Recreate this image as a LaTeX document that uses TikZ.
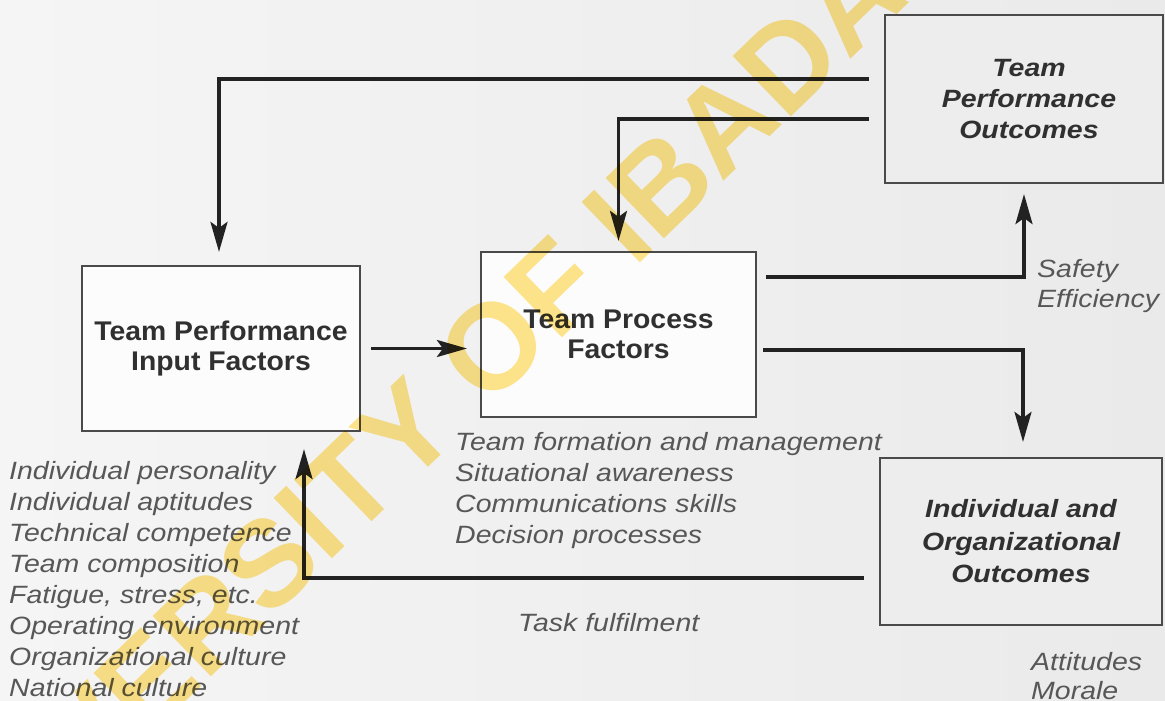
\documentclass[tikz,border=0pt]{standalone}
\usepackage{fontspec}
\setmainfont{Liberation Sans}
\newfontfamily\listfont[FakeStretch=1.14]{Liberation Sans}
\newfontfamily\boxfont[FakeStretch=1.05]{Liberation Sans}
\usetikzlibrary{arrows.meta}

\definecolor{paperL}{HTML}{F5F5F5}
\definecolor{paperR}{HTML}{EAEAEA}
\definecolor{ink}{HTML}{222222}
\definecolor{boxline}{HTML}{4A4A4A}
\definecolor{labelgray}{HTML}{303030}
\definecolor{listgray}{HTML}{575757}
\definecolor{stamp}{RGB}{255,229,138}

\begin{document}
\begin{tikzpicture}[x=1pt,y=-1pt,
  box/.style={draw=boxline, line width=2.2pt, inner sep=0pt, align=center, text=labelgray},
  inbox/.style={box, fill=white!70!paperL, font=\boxfont\bfseries\fontsize{27}{30}\selectfont},
  outbox/.style={box, fill=black!7, font=\listfont\bfseries\itshape\fontsize{25}{31}\selectfont},
  conn/.style={draw=ink, line width=3.2pt, -{Stealth[length=30pt,width=17pt,inset=6pt]}},
  itemtext/.style={inner sep=0pt, align=left, text=listgray, font=\listfont\itshape\fontsize{25}{31}\selectfont},
]
% paper
\useasboundingbox (0,0) rectangle (1165,701);
\shade[left color=paperL, right color=paperR] (0,0) rectangle (1165,701);

% boxes
\node[inbox, minimum width=278pt, minimum height=165pt] (A) at (221,348.5)
  {Team Performance\\Input Factors};
\node[inbox, minimum width=275pt, minimum height=165pt] (B) at (618.5,334.5)
  {Team Process\\Factors};
\node[outbox, minimum width=278pt, minimum height=168pt] (C) at (1024,99)
  {\hspace*{10pt}Team\\\hspace*{10pt}Performance\\\hspace*{10pt}Outcomes};
\node[outbox, minimum width=282pt, minimum height=167pt, font=\listfont\bfseries\itshape\fontsize{25}{32.5}\selectfont] (D) at (1021,541.5)
  {Individual and\\Organizational\\Outcomes};

% connectors
\draw[conn, shorten >=13pt] ([xshift=-15pt,yshift=20pt]C.west) -| ([xshift=-2pt]A.north);
\draw[conn, shorten >=10pt] ([xshift=-15pt,yshift=-20pt]C.west) -| (B.north);
\draw[conn, shorten <=10pt, shorten >=13pt] (A.east) -- (A.east -| B.west);
\draw[conn, shorten >=10pt] ([xshift=9pt,yshift=57.5pt]B.east) -| (C.south);
\draw[conn, shorten >=15pt] ([xshift=6pt,yshift=-15.5pt]B.east) -| ([xshift=2pt]D.north);
\draw[conn, shorten >=17pt] ([xshift=-15pt,yshift=-36.5pt]D.west) -| ([xshift=83pt]A.south);

% factor lists and outcome labels
\node[itemtext, anchor=north west] (inputs) at (9,461)
  {Individual personality\\Individual aptitudes\\Technical competence\\Team composition\\Fatigue, stress, etc.\\Operating environment\\Organizational culture\\National culture};
\node[itemtext, anchor=north west] (process) at (455,432)
  {Team formation and management\\Situational awareness\\Communications skills\\Decision processes};
\node[itemtext, anchor=north west, font=\listfont\itshape\fontsize{25}{30}\selectfont] (perf) at (1037,259)
  {Safety\\Efficiency};
\node[itemtext, anchor=base west] (task) at (518,631) {Task fulfilment};
\node[itemtext, anchor=north west, font=\listfont\itshape\fontsize{25}{29}\selectfont] (org) at (1031,652)
  {Attitudes\\Morale};

% library stamp across the page
\begin{scope}[blend mode=multiply]
  \clip (0,0) rectangle (1165,701);
  \node[rotate=44, text=stamp, inner sep=0pt, font=\bfseries\fontsize{122}{122}\selectfont] (stampmark) at (427,410)
    {UNIVERSITY OF IBADAN};
\end{scope}
\end{tikzpicture}
\end{document}
